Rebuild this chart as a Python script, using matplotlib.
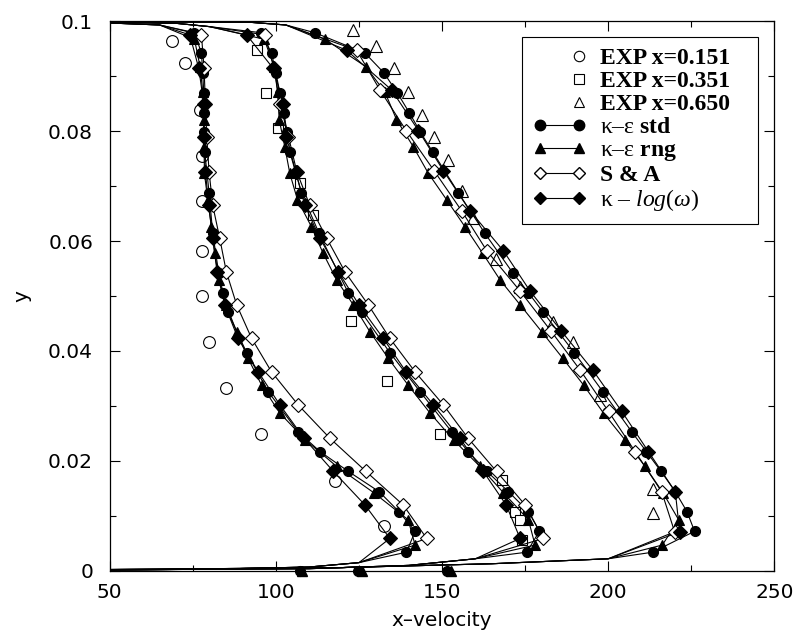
import numpy as np
import matplotlib.pyplot as plt
from matplotlib.ticker import MultipleLocator, FixedLocator, FixedFormatter

plt.rcParams["font.family"] = "DejaVu Sans"
plt.rcParams["mathtext.fontset"] = "custom"
plt.rcParams["mathtext.rm"] = "Liberation Serif"
plt.rcParams["mathtext.it"] = "Liberation Serif:italic"
plt.rcParams["mathtext.bf"] = "Liberation Serif:bold"

# experimental profiles (x-velocity, y)
exp151_u = [68.6, 72.8, 77.1, 77.7, 77.8, 77.8, 77.9, 79.9, 84.9, 95.4, 117.8, 132.5]
exp151_y = [0.0964, 0.0923, 0.0838, 0.0755, 0.0672, 0.0582, 0.0500, 0.0416, 0.0333, 0.0249, 0.0164, 0.0081]
exp351_u = [94.4, 97.0, 100.7, 107.2, 111.2, 122.6, 133.4, 149.4, 168.0, 172.0, 173.5, 174.0]
exp351_y = [0.0947, 0.0870, 0.0805, 0.0706, 0.0647, 0.0455, 0.0345, 0.0249, 0.0165, 0.0108, 0.0093, 0.0056]
exp650_u = [123.1, 130.1, 135.5, 139.9, 143.9, 147.6, 151.9, 155.9, 159.4, 166.3, 173.5,
            183.3, 189.4, 197.6, 213.6, 213.4]
exp650_y = [0.0984, 0.0955, 0.0914, 0.0871, 0.0829, 0.0790, 0.0747, 0.0691, 0.0641, 0.0567, 0.0517,
            0.0453, 0.0417, 0.0320, 0.0149, 0.0105]

# k-eps std (marker points)
std_y = [0.0979, 0.0942, 0.0906, 0.0870, 0.0833, 0.0799, 0.0762, 0.0688, 0.0614, 0.0542, 0.0506,
         0.0470, 0.0397, 0.0326, 0.0253, 0.0217, 0.0181, 0.0144, 0.0108, 0.0072, 0.0034]
std151_u = [75.5, 77.6, 78.0, 78.3, 78.3, 78.5, 78.6, 79.9, 81.0, 82.8, 84.1,
            85.6, 91.2, 97.7, 106.7, 113.3, 121.8, 131.1, 137.0, 141.9, 139.3]
std351_u = [95.5, 98.7, 100.0, 101.2, 102.3, 103.4, 104.2, 107.7, 113.0, 118.8, 121.8,
            125.8, 134.3, 143.4, 152.9, 157.9, 163.5, 170.0, 176.0, 179.3, 175.5]
std650_u = [111.7, 126.8, 132.5, 136.5, 140.2, 143.4, 147.2, 154.9, 162.9, 171.3, 176.0,
            180.5, 189.8, 198.4, 207.1, 211.5, 215.9, 220.2, 223.7, 226.0, 213.4]

# k-eps rng
rng_y = [0.0967, 0.0917, 0.0871, 0.0821, 0.0771, 0.0723, 0.0675, 0.0626, 0.0578, 0.0529, 0.0484,
         0.0435, 0.0387, 0.0338, 0.0287, 0.0238, 0.0190, 0.0142, 0.0093, 0.0047]
rng151_u = [75.5, 77.2, 78.0, 78.3, 78.4, 78.5, 79.5, 80.6, 81.6, 82.9, 85.0,
            88.2, 91.6, 95.7, 101.2, 108.9, 118.3, 129.5, 139.8, 141.9]
rng351_u = [96.5, 99.5, 100.5, 101.0, 102.7, 104.2, 106.5, 110.7, 114.2, 118.3, 123.3,
            128.3, 133.8, 139.8, 146.4, 153.5, 161.4, 168.5, 176.0, 178.0]
rng650_u = [114.8, 127.1, 132.8, 136.3, 141.4, 145.9, 151.4, 156.9, 162.2, 167.5, 173.5,
            180.0, 186.3, 192.6, 198.6, 205.1, 211.1, 216.5, 221.2, 216.3]

# S & A and k-log(w)
dia_y = [0.0975, 0.0914, 0.0850, 0.0790, 0.0726, 0.0665, 0.0605, 0.0544, 0.0484, 0.0423,
         0.0362, 0.0302, 0.0241, 0.0181, 0.0120, 0.0059]
dia650_y = [0.0947, 0.0875, 0.0801, 0.0728, 0.0655, 0.0582, 0.0509, 0.0437, 0.0365, 0.0290,
            0.0217, 0.0144, 0.0071]
sa151_u = [77.6, 78.4, 78.8, 79.2, 79.9, 81.0, 83.1, 85.1, 88.2, 92.7, 98.7, 106.7, 116.3, 127.1, 138.3, 145.4]
sa351_u = [96.7, 99.5, 101.2, 103.8, 106.3, 110.2, 115.3, 120.8, 127.8, 134.3, 141.9, 150.4, 157.9, 166.4, 175.0, 180.5]
sa650_u = [124.3, 131.3, 139.2, 147.6, 155.9, 163.5, 173.5, 182.7, 191.6, 200.1, 208.1, 216.1, 220.0]
klw151_u = [74.1, 76.8, 78.3, 78.3, 78.8, 79.8, 81.0, 82.3, 84.6, 88.6, 94.7, 101.2, 108.5, 117.3, 126.8, 134.3]
klw351_u = [91.2, 99.2, 102.2, 103.2, 106.0, 108.7, 113.3, 118.8, 125.0, 132.3, 139.2, 147.4, 155.4, 162.4, 169.3, 173.5]
klw650_u = [121.3, 134.8, 142.9, 150.4, 158.4, 168.5, 176.5, 185.8, 195.4, 204.1, 212.1, 220.2, 221.5]

# line-only ends of each profile (jet edge and wall)
top_u = {"151": [40, 65], "351": [40, 70, 80], "650": [0, 92, 103]}
top_y = {"151": [0.0999, 0.0993], "351": [0.0999, 0.0996, 0.0990], "650": [0.1000, 0.0998, 0.0993]}
wall_u = {"151": [125, 110, 80, 0], "351": [160, 140, 110, 0], "650": [200, 165, 120, 0]}
wall_y = {"151": [0.0015, 0.0007, 0.0003, 0.0], "351": [0.0022, 0.0010, 0.0004, 0.0],
          "650": [0.0022, 0.0013, 0.0006, 0.0]}
# first cell markers sitting on y = 0
wallpt_std_u = [107.2, 124.8, 151.4]
wallpt_rng_u = [107.8, 125.8, 152.6]

fig = plt.figure(figsize=(7.95, 6.4), dpi=100)
ax = fig.add_axes([0.138, 0.108, 0.836, 0.859])

ax.plot(exp151_u, exp151_y, "o", ms=8.5, mfc="white", mec="black", mew=0.8, ls="none", zorder=2)
ax.plot(exp351_u, exp351_y, "s", ms=7.5, mfc="white", mec="black", mew=0.8, ls="none", zorder=2)
ax.plot(exp650_u, exp650_y, "^", ms=9, mfc="white", mec="black", mew=0.8, ls="none", zorder=2)


def profile(st, u, y, marker, ms, mfc):
    uu = top_u[st] + list(u) + wall_u[st]
    yy = top_y[st] + list(y) + wall_y[st]
    ax.plot(uu, yy, "-", color="black", lw=0.8, zorder=3)
    ax.plot(u, y, marker, ms=ms, mfc=mfc, mec="black", mew=0.8, ls="none", zorder=4)


for st, u in zip(["151", "351", "650"], [std151_u, std351_u, std650_u]):
    profile(st, u, std_y, "o", 7.2, "black")
for st, u in zip(["151", "351", "650"], [rng151_u, rng351_u, rng650_u]):
    profile(st, u, rng_y, "^", 7.8, "black")
for st, u, y in zip(["151", "351", "650"], [sa151_u, sa351_u, sa650_u], [dia_y, dia_y, dia650_y]):
    profile(st, u, y, "D", 6.7, "white")
for st, u, y in zip(["151", "351", "650"], [klw151_u, klw351_u, klw650_u], [dia_y, dia_y, dia650_y]):
    profile(st, u, y, "D", 6.7, "black")

ax.plot(wallpt_std_u, [0, 0, 0], "o", ms=7, color="black", ls="none", clip_on=False, zorder=5)
ax.plot(wallpt_rng_u, [0, 0, 0], "^", ms=7.5, color="black", ls="none", clip_on=False, zorder=5)

# legend proxies
h_exp1, = ax.plot([], [], "o", ms=7.5, mfc="white", mec="black", mew=0.8, ls="none")
h_exp2, = ax.plot([], [], "s", ms=6.5, mfc="white", mec="black", mew=0.8, ls="none")
h_exp3, = ax.plot([], [], "^", ms=7.5, mfc="white", mec="black", mew=0.8, ls="none")
h_std, = ax.plot([], [], "-o", color="black", lw=0.8, ms=7.5)
h_rng, = ax.plot([], [], "-^", color="black", lw=0.8, ms=7.5)
h_sa, = ax.plot([], [], "-D", color="black", mfc="white", lw=0.8, ms=6.5)
h_klw, = ax.plot([], [], "-D", color="black", lw=0.8, ms=6.5)
labels = ["EXP x=0.151", "EXP x=0.351", "EXP x=0.650",
          r"κ–ε $\mathbf{std}$", r"κ–ε $\mathbf{rng}$", "S & A", r"κ – $\mathit{log}$($\mathit{ω}$$\mathit{)}$"]
leg = ax.legend([h_exp1, h_exp2, h_exp3, h_std, h_rng, h_sa, h_klw], labels,
                loc="upper left", bbox_to_anchor=(0.6205, 0.0, 0.3555, 0.971), mode="expand",
                borderaxespad=0, numpoints=2, handlelength=2.25, handletextpad=0.62,
                labelspacing=0.06, borderpad=0.45, fancybox=False, framealpha=1,
                edgecolor="black", prop={"family": "Liberation Serif", "size": 17})
leg.get_frame().set_linewidth(0.8)
for ln in leg.get_lines()[:3]:
    ln.set_markevery([1])
for i in [0, 1, 2, 5]:
    leg.get_texts()[i].set_fontweight("bold")

ax.set_xlim(50, 250)
ax.set_ylim(0, 0.1)
ax.xaxis.set_major_locator(MultipleLocator(50))
ax.xaxis.set_minor_locator(MultipleLocator(25))
ax.yaxis.set_major_locator(FixedLocator([0, 0.02, 0.04, 0.06, 0.08, 0.1]))
ax.yaxis.set_major_formatter(FixedFormatter(["0", "0.02", "0.04", "0.06", "0.08", "0.1"]))
ax.yaxis.set_minor_locator(MultipleLocator(0.01))
ax.tick_params(which="both", direction="in", top=True, right=True, labelsize=14.5, width=0.8)
ax.tick_params(which="major", length=7)
ax.tick_params(which="minor", length=4)
ax.tick_params(axis="x", which="major", pad=9)
ax.tick_params(axis="y", which="major", pad=12)
for sp in ax.spines.values():
    sp.set_linewidth(0.9)
ax.set_xlabel("x–velocity", fontsize=14.5, labelpad=6)
ax.set_ylabel("y", fontsize=14.5, labelpad=12)

fig.savefig("out.png", dpi=100)
